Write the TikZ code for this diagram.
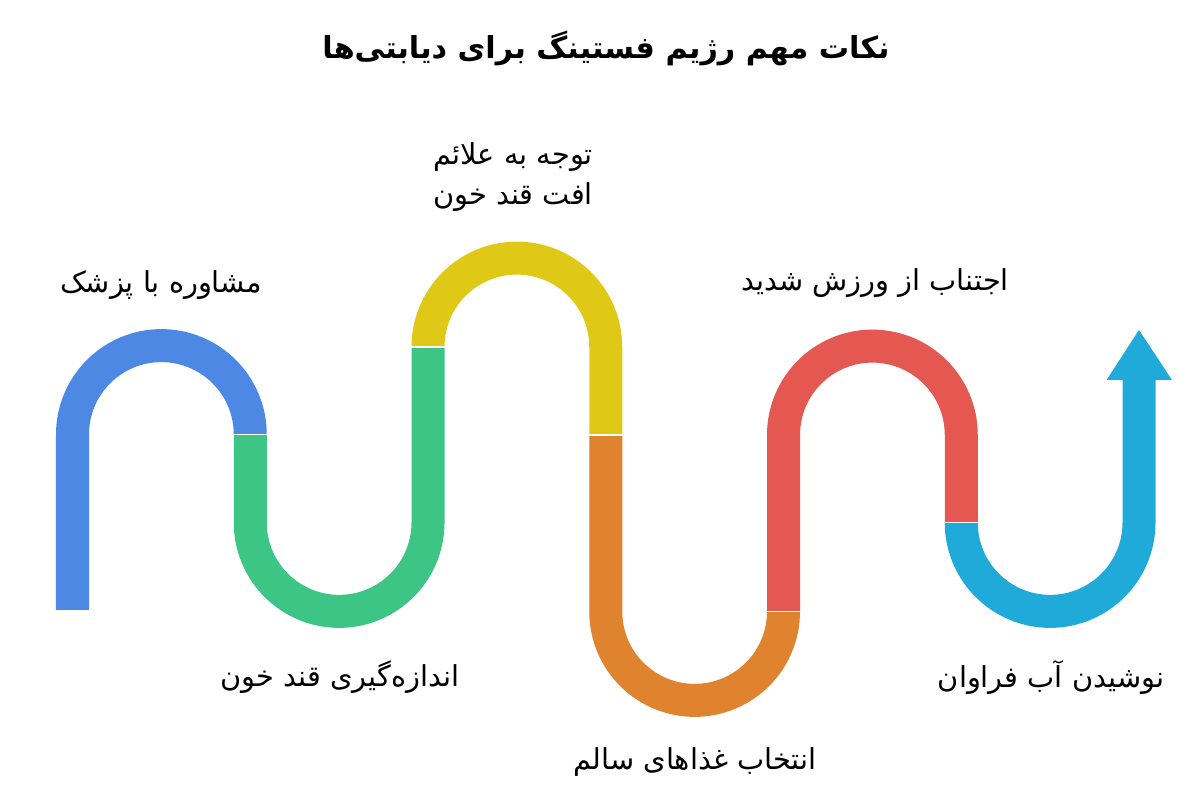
\documentclass[tikz,border=0pt]{standalone}
\usepackage{fontspec}
\usepackage{tikz}
\usepackage{xcolor}
\TeXXeTstate=1
\newfontfamily\arabicfont[Script=Arabic]{DejaVu Sans}

\definecolor{cBlue}{HTML}{4E88E5}
\definecolor{cGreen}{HTML}{3CC584}
\definecolor{cYellow}{HTML}{E0C916}
\definecolor{cOrange}{HTML}{E0832F}
\definecolor{cRed}{HTML}{E55852}
\definecolor{cCyan}{HTML}{1FAAD9}

\begin{document}
\begin{tikzpicture}[x=0.025cm, y=0.025cm,
    band/.style={line width=0.825cm, line cap=butt},
    gap/.style={draw=white, line width=1.2pt},
    every node/.style={font=\arabicfont\fontsize{20.5}{28}\selectfont, inner sep=0pt}]
                \useasboundingbox (0,0) rectangle (1200,800);

                \draw[band, cBlue] (72.5,190) -- (72.5,365.5) arc[start angle=180, end angle=0, radius=88.875];
                \draw[band, cGreen] (250.25,365.5) -- (250.25,277.5) arc[start angle=180, end angle=360, radius=88.875] -- (428,453);
                \draw[band, cYellow] (428,453) arc[start angle=180, end angle=0, radius=88.875] -- (605.75,365);
                \draw[band, cOrange] (605.75,365) -- (605.75,188.5) arc[start angle=180, end angle=360, radius=88.875];
                \draw[band, cRed] (783.5,188.5) -- (783.5,365) arc[start angle=180, end angle=0, radius=88.875] -- (961.25,277.5);
                \draw[band, cCyan] (961.25,277.5) arc[start angle=180, end angle=360, radius=88.875] -- (1139,421);
                \fill[cCyan] (1106.5,420) -- (1172,420) -- (1139,470) -- cycle;

                % white joints
                \draw[gap] (233,365.5) -- (268,365.5);
                \draw[gap] (411,453) -- (445,453);
                \draw[gap] (589,365) -- (623,365);
                \draw[gap] (767,188.5) -- (801,188.5);
                \draw[gap] (944,277.5) -- (979,277.5);

                \node (T) at (606,752) {\fontsize{21.5}{28}\bfseries\beginR نکات مهم رژیم فستینگ برای دیابتی‌ها\endR};
                \node (A) at (161,515) {\beginR مشاوره با پزشک\endR};
                \node (B) at (340,123) {\beginR اندازه‌گیری قند خون\endR};
                \node[align=right] (C) at (513,623) {\beginR توجه به علائم\endR\\\beginR افت قند خون\endR};
                \node (D) at (695,38) {\beginR انتخاب غذاهای سالم\endR};
                \node (E) at (875,517) {\beginR اجتناب از ورزش شدید\endR};
                \node (F) at (1051,123) {\beginR نوشیدن آب فراوان\endR};
            \end{tikzpicture}
\end{document}
